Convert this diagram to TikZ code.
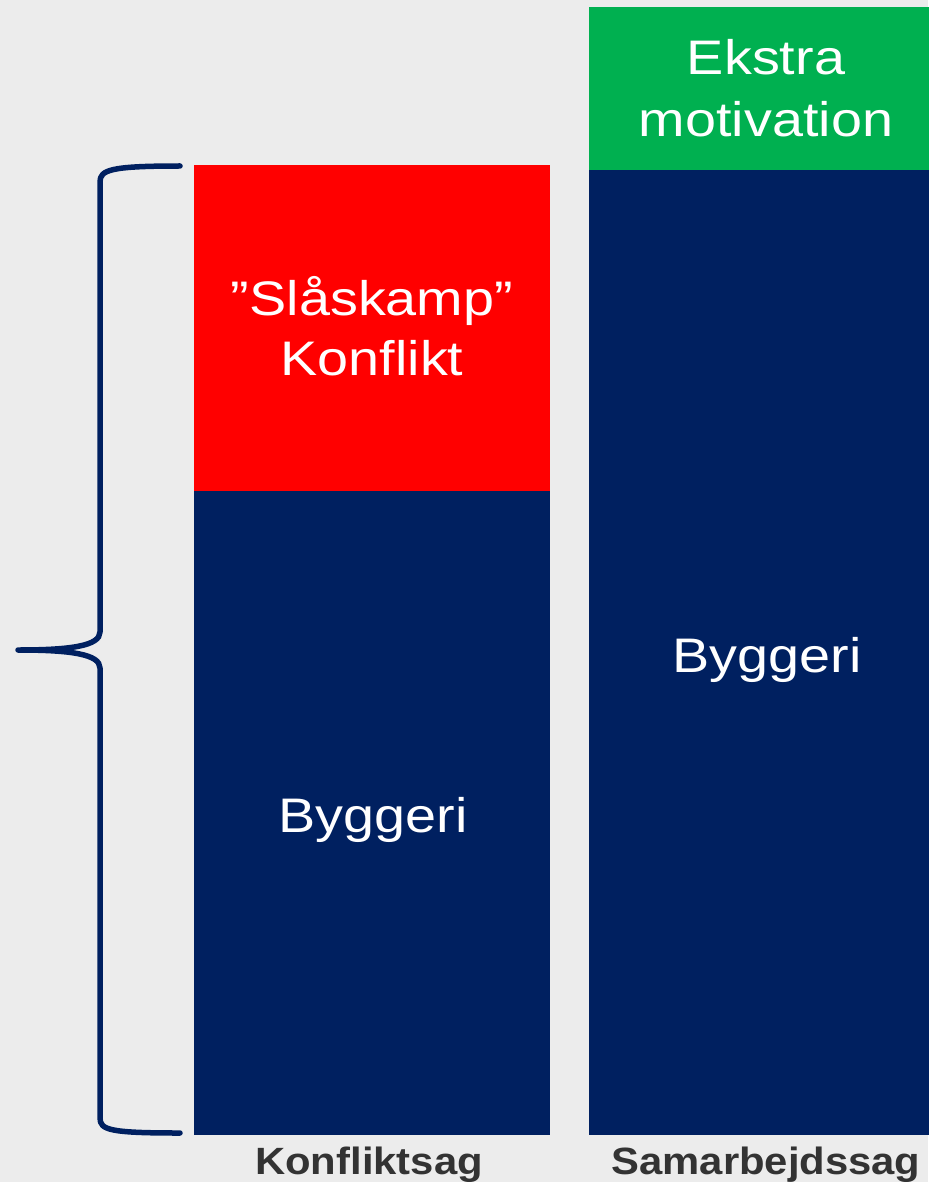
\documentclass[tikz,border=0pt]{standalone}
\usepackage{fontspec}
\newfontfamily\wfont[FakeStretch=1.15]{Liberation Sans}
\newfontfamily\lfont[FakeStretch=1.1]{Liberation Sans}
\definecolor{bgc}{HTML}{ECECEC}
\definecolor{navy}{HTML}{002060}
\definecolor{redc}{HTML}{FF0000}
\definecolor{greenc}{HTML}{00B050}
\definecolor{labc}{HTML}{333333}
\begin{document}
\begin{tikzpicture}[x=1pt,y=-1pt,
  bodytext/.style={anchor=base, inner sep=0, text=white, font=\wfont\fontsize{48.5}{58}\selectfont},
  labtext/.style={anchor=base, inner sep=0, text=labc, font=\lfont\bfseries\fontsize{38}{46}\selectfont},
  bracestyle/.style={draw=navy, line width=5.5pt, line cap=round, line join=round}]
\fill[bgc] (0,0) rectangle (928,1182);
\useasboundingbox (0,0) rectangle (928,1182);
% left column
\fill[redc] (194,165) rectangle (550,491);
\fill[navy] (194,491) rectangle (550,1135);
% right column
\fill[greenc] (589,7) rectangle (930,170);
\fill[navy] (589,170) rectangle (930,1135);
% texts
\node[bodytext] (s1) at (372,315) {”Slåskamp”};
\node[bodytext] (s2) at (372,375) {Konflikt};
\node[bodytext] (b1) at (373,832) {Byggeri};
\node[bodytext] (e1) at (766,75) {Ekstra};
\node[bodytext] (e2) at (766,137) {motivation};
\node[bodytext] (b2) at (767,672) {Byggeri};
\node[labtext] (l1) at (369,1174) {Konfliktsag};
\node[labtext] (l2) at (766,1174) {Samarbejdssag};
% brace
\coordinate (bt) at (180,166);
\coordinate (tip) at (18,650);
\coordinate (bb) at (180,1133);
\draw[bracestyle] (bt) .. controls (110,166) and (100,170) .. (100,182)
  -- (100,632) .. controls (100,646) and (70,650) .. (tip)
  .. controls (70,650) and (100,654) .. (100,668)
  -- (100,1118) .. controls (100,1130) and (110,1133) .. (bb);
\end{tikzpicture}
\end{document}
